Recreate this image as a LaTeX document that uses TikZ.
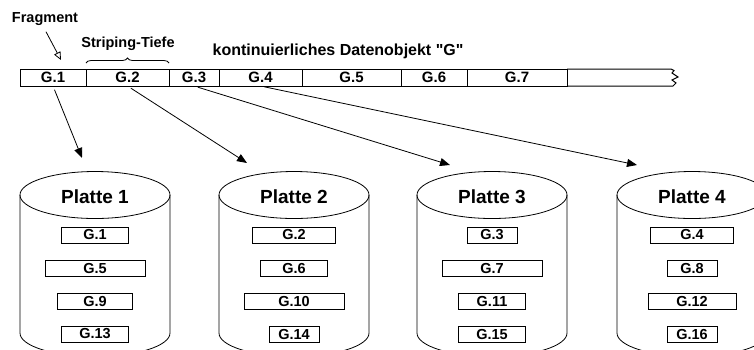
\documentclass[tikz,border=0pt]{standalone}
\usepackage{fontspec}
\setmainfont{Liberation Sans}[Ligatures=TeXOff]
\usetikzlibrary{positioning}
\usetikzlibrary{arrows.meta}
\usetikzlibrary{decorations.pathreplacing}
\usetikzlibrary{calc}

\begin{document}
\begin{tikzpicture}[x=1pt,y=-1pt]
\tikzset{zelle/.style={rectangle, draw, line width=1pt, minimum height=17pt, inner sep=0pt, outer sep=0pt, font=\fontsize{15}{17}\selectfont\bfseries}}
\tikzset{block/.style={rectangle, draw, line width=0.8pt, minimum height=16pt, inner sep=0pt, font=\fontsize{14.5}{16}\selectfont\bfseries}}
\tikzset{titel/.style={inner sep=0pt, font=\fontsize{14.5}{16}\selectfont\bfseries}}
\tikzset{plattentext/.style={inner sep=0pt, font=\fontsize{19}{21}\selectfont\bfseries}}
\tikzset{pfeil/.style={-{Triangle[length=10pt,width=8pt]}, line width=0.8pt}}
\tikzset{pfeiloffen/.style={-{Triangle[open,length=8pt,width=7pt]}, line width=0.8pt}}
\useasboundingbox (0,0) rectangle (754,349);
% Datenobjekt
\node[zelle, minimum width=66] (g1) at (53,77.5) {G.1};
\node[zelle, minimum width=83, right=0pt of g1] (g2) {G.2};
\node[zelle, minimum width=50, right=0pt of g2] (g3) {G.3};
\node[zelle, minimum width=83, right=0pt of g3] (g4) {G.4};
\node[zelle, minimum width=99, right=0pt of g4] (g5) {G.5};
\node[zelle, minimum width=66, right=0pt of g5] (g6) {G.6};
\node[zelle, minimum width=100, right=0pt of g6] (g7) {G.7};
\draw[line width=1pt] (g7.north east) -- (671,69) -- (674,70.5) -- (672,73) -- (678,77) -- (672,80) -- (676,83) -- (673,86) -- (g7.south east);
% Beschriftungen
\node[titel] (fragment) at (45,19) {Fragment};
\coordinate (fragziel) at (61,60);
\draw[pfeiloffen] ([shift={(1,6)}]fragment.south) -- (fragziel);
\node[titel] (tiefe) at (128,44) {Striping-Tiefe};
\draw[decorate, decoration={brace, amplitude=5pt}, line width=0.8pt] ([yshift=6pt]g2.north west) -- ([yshift=6pt]g2.north east);
\node[titel, font=\fontsize{16}{18}\selectfont\bfseries] (objekt) at (338,51) {kontinuierliches Datenobjekt "G"};
% Platten
\foreach \i/\cx/\breiteA/\breiteB/\breiteC/\breiteD in {1/95/67/100/75/67, 2/294/83/67/100/50, 3/492/50/100/67/67, 4/692/83/50/88/50}{
  \draw[line width=0.8pt] (\cx-75,195) -- (\cx-75,333) arc (180:360:75pt and 23.5pt) -- (\cx+75,195);
  \draw[line width=0.8pt] (\cx,195) ellipse (75pt and 23.5pt);
  \node[plattentext] (p\i) at (\cx,197) {Platte \i};
  \pgfmathtruncatemacro\nb{\i+4}
  \pgfmathtruncatemacro\nc{\i+8}
  \pgfmathtruncatemacro\nd{\i+12}
  \node[block, minimum width=\breiteA] (s\i) at (\cx,235) {G.\i};
  \node[block, minimum width=\breiteB] (s\nb) at (\cx,268) {G.\nb};
  \node[block, minimum width=\breiteC] (s\nc) at (\cx,301) {G.\nc};
  \node[block, minimum width=\breiteD] (s\nd) at (\cx,334) {G.\nd};
}
% Verteilung
\coordinate (ziel1) at (82,158);
\coordinate (ziel2) at (247,163);
\coordinate (ziel3) at (450,165);
\coordinate (ziel4) at (637,165);
\foreach \i in {1,...,4}
  \draw[pfeil, shorten <=4pt] (g\i.south) -- (ziel\i);
\end{tikzpicture}
\end{document}
